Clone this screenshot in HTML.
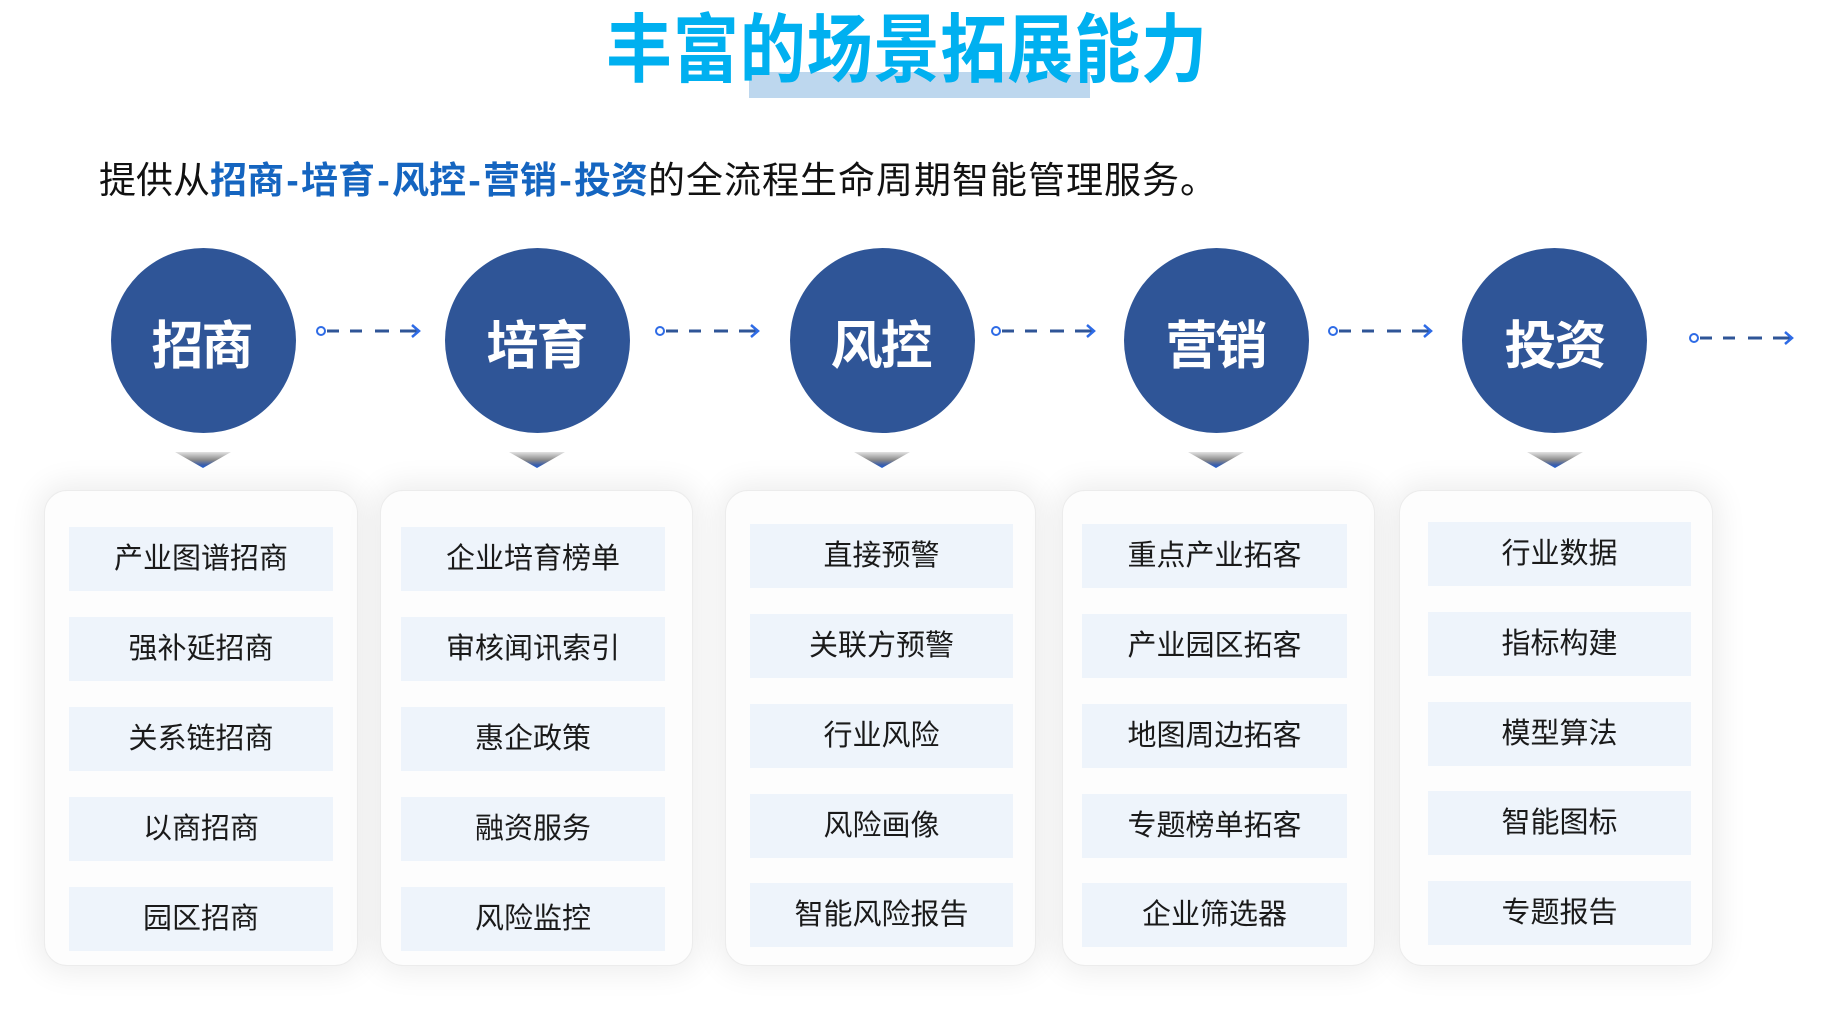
<!DOCTYPE html>
<html>
<head>
<meta charset="utf-8">
<style>
  html,body{margin:0;padding:0;background:#fff;}
  body{width:1826px;height:1011px;position:relative;overflow:hidden;font-family:"Liberation Sans","Noto Sans CJK SC",sans-serif;}
  .abs{position:absolute;}
  .title{left:606px;top:13px;font-size:75px;line-height:75px;font-weight:700;color:#00B0F0;letter-spacing:1px;white-space:nowrap;z-index:2;transform:scaleX(0.88);transform-origin:0 0;}
  .hl{left:749px;top:72px;width:341px;height:26px;background:#BDD7EE;z-index:1;}
  .sub{left:99px;top:162px;font-size:37px;line-height:37px;color:#111;white-space:nowrap;}
  .sub b{color:#1565C0;font-weight:700;}
  .sub .h{display:inline-block;width:17px;text-align:center;}
  .sub .r{letter-spacing:1px;}
  .circ{width:185px;height:185px;border-radius:50%;background:#2F5597;top:248px;}
  .ctext{top:321px;width:185px;text-align:center;font-size:52px;line-height:52px;font-weight:700;color:#fff;white-space:nowrap;letter-spacing:-2px;}
  .card{top:490px;height:476px;border-radius:23px;background:#FDFDFD;border:1px solid #ececec;box-sizing:border-box;box-shadow:0 0 30px 6px rgba(0,0,0,0.075);}
  .item{height:64px;background:#EEF4FB;text-align:center;font-size:29px;line-height:64px;color:#1a1a1a;white-space:nowrap;}
</style>
</head>
<body>
<div class="abs hl"></div>
<div class="abs title">丰富的场景拓展能力</div>

<div class="abs sub">提供从<b>招商<span class="h">-</span>培育<span class="h">-</span>风控<span class="h">-</span>营销<span class="h">-</span>投资</b><span class="r">的全流程生命周期智能管理服务。</span></div>

<!-- circles -->
<div class="abs circ" style="left:111px"></div>
<div class="abs circ" style="left:445px"></div>
<div class="abs circ" style="left:790px"></div>
<div class="abs circ" style="left:1124px"></div>
<div class="abs circ" style="left:1462px"></div>
<div class="abs ctext" style="left:109px">招商</div>
<div class="abs ctext" style="left:444px">培育</div>
<div class="abs ctext" style="left:788px">风控</div>
<div class="abs ctext" style="left:1123px">营销</div>
<div class="abs ctext" style="left:1462px">投资</div>

<!-- cards -->
<div class="abs card" style="left:44px;width:314px"></div>
<div class="abs card" style="left:380px;width:313px"></div>
<div class="abs card" style="left:725px;width:311px"></div>
<div class="abs card" style="left:1062px;width:313px"></div>
<div class="abs card" style="left:1399px;width:314px"></div>

<!-- card 1 -->
<div class="abs item" style="left:69px;width:264px;top:527px">产业图谱招商</div>
<div class="abs item" style="left:69px;width:264px;top:617px">强补延招商</div>
<div class="abs item" style="left:69px;width:264px;top:707px">关系链招商</div>
<div class="abs item" style="left:69px;width:264px;top:797px">以商招商</div>
<div class="abs item" style="left:69px;width:264px;top:887px">园区招商</div>
<!-- card 2 -->
<div class="abs item" style="left:401px;width:264px;top:527px">企业培育榜单</div>
<div class="abs item" style="left:401px;width:264px;top:617px">审核闻讯索引</div>
<div class="abs item" style="left:401px;width:264px;top:707px">惠企政策</div>
<div class="abs item" style="left:401px;width:264px;top:797px">融资服务</div>
<div class="abs item" style="left:401px;width:264px;top:887px">风险监控</div>
<!-- card 3 -->
<div class="abs item" style="left:750px;width:263px;top:524px">直接预警</div>
<div class="abs item" style="left:750px;width:263px;top:614px">关联方预警</div>
<div class="abs item" style="left:750px;width:263px;top:704px">行业风险</div>
<div class="abs item" style="left:750px;width:263px;top:794px">风险画像</div>
<div class="abs item" style="left:750px;width:263px;top:883px">智能风险报告</div>
<!-- card 4 -->
<div class="abs item" style="left:1082px;width:265px;top:524px">重点产业拓客</div>
<div class="abs item" style="left:1082px;width:265px;top:614px">产业园区拓客</div>
<div class="abs item" style="left:1082px;width:265px;top:704px">地图周边拓客</div>
<div class="abs item" style="left:1082px;width:265px;top:794px">专题榜单拓客</div>
<div class="abs item" style="left:1082px;width:265px;top:883px">企业筛选器</div>
<!-- card 5 -->
<div class="abs item" style="left:1428px;width:263px;top:522px">行业数据</div>
<div class="abs item" style="left:1428px;width:263px;top:612px">指标构建</div>
<div class="abs item" style="left:1428px;width:263px;top:702px">模型算法</div>
<div class="abs item" style="left:1428px;width:263px;top:791px">智能图标</div>
<div class="abs item" style="left:1428px;width:263px;top:881px">专题报告</div>

<!-- arrows and triangles -->
<svg class="abs" style="left:0;top:0" width="1826" height="1011" viewBox="0 0 1826 1011">
  <defs>
    <linearGradient id="tg" x1="0" y1="0" x2="0" y2="1">
      <stop offset="0" stop-color="#e2e2e2"/>
      <stop offset="0.5" stop-color="#8a8a8a"/>
      <stop offset="0.8" stop-color="#3c5ea8"/>
      <stop offset="1" stop-color="#1f5fd6"/>
    </linearGradient>
    <g id="arr">
      <line x1="6" y1="0" x2="18" y2="0" stroke="#2F5597" stroke-width="3"/>
      <line x1="29" y1="0" x2="41" y2="0" stroke="#2F5597" stroke-width="3"/>
      <line x1="54" y1="0" x2="68" y2="0" stroke="#2F5597" stroke-width="3"/>
      <line x1="79" y1="0" x2="97" y2="0" stroke="#2F5597" stroke-width="3"/>
      <polyline points="91,-6 98,0 91,6" fill="none" stroke="#2E6BE6" stroke-width="2.5"/>
      <circle cx="0" cy="0" r="4" fill="#fff" stroke="#2E6BE6" stroke-width="2"/>
    </g>
  </defs>
  <use href="#arr" x="321" y="331"/>
  <use href="#arr" x="660" y="331"/>
  <use href="#arr" x="996" y="331"/>
  <use href="#arr" x="1333" y="331"/>
  <use href="#arr" x="1694" y="338"/>

  <polygon points="175,452 231,452 203,468" fill="url(#tg)"/>
  <polygon points="509,452 565,452 537,468" fill="url(#tg)"/>
  <polygon points="854,452 910,452 882,468" fill="url(#tg)"/>
  <polygon points="1188,452 1244,452 1216,468" fill="url(#tg)"/>
  <polygon points="1527,452 1583,452 1555,468" fill="url(#tg)"/>
</svg>
</body>
</html>
